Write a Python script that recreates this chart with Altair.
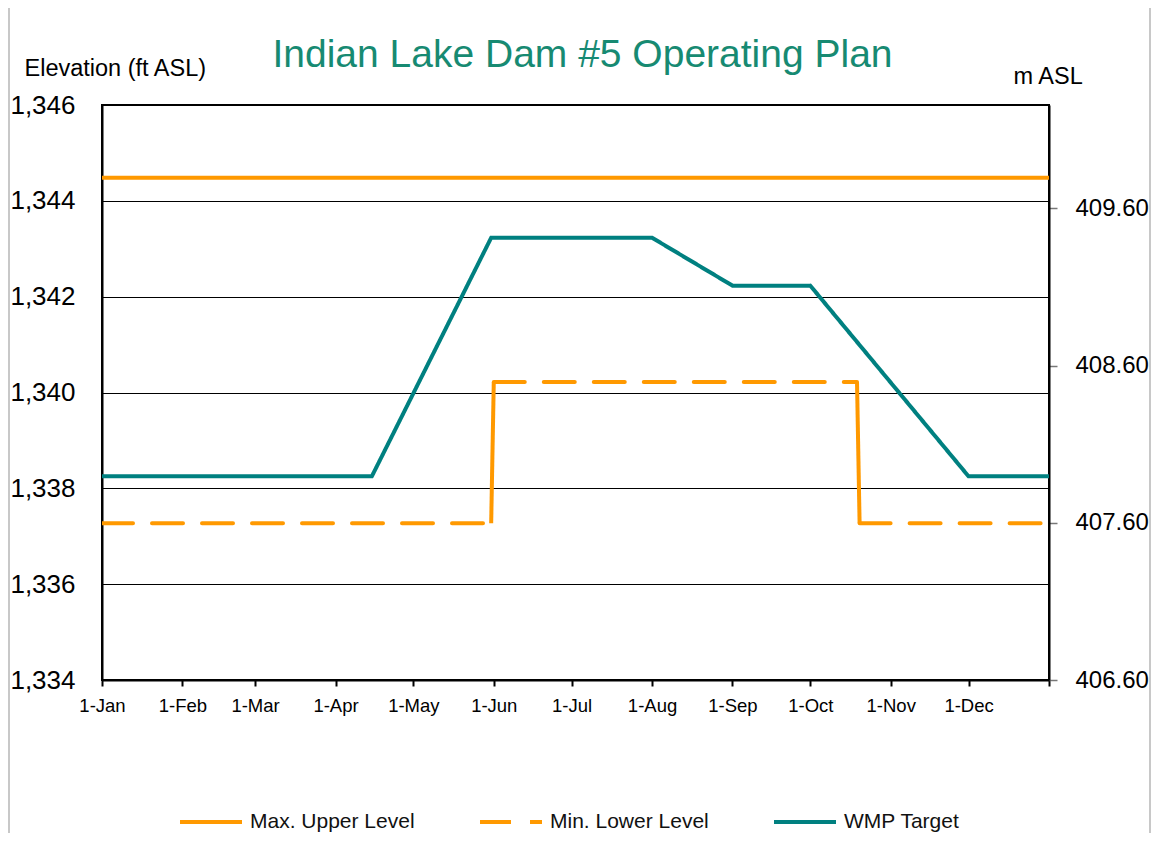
import altair as alt
import pandas as pd

FT_PER_M = 3.28084
FONT = "Liberation Sans"

TITLE = "Indian Lake Dam #5 Operating Plan"
series_names = ["Max. Upper Level", "Min. Lower Level", "WMP Target"]
series_colors = ["#FF9900", "#FF9900", "#008080"]
series_dash = [[1, 0], [31, 19], [1, 0]]

max_dates = ["2023-01-01T00:00:00", "2024-01-01T00:00:00"]
max_vals = [1344.48, 1344.48]

min_dates = ["2023-01-01T00:00:00", "2023-05-31T00:00:00", "2023-06-01T00:00:00",
             "2023-10-19T00:00:00", "2023-10-20T00:00:00", "2024-01-01T00:00:00"]
min_vals = [1337.27, 1337.27, 1340.22, 1340.22, 1337.27, 1337.27]

wmp_dates = ["2023-01-01T00:00:00", "2023-04-15T00:00:00", "2023-05-31T00:00:00",
             "2023-08-01T00:00:00", "2023-09-01T00:00:00", "2023-10-01T00:00:00",
             "2023-12-01T00:00:00", "2024-01-01T00:00:00"]
wmp_vals = [1338.25, 1338.25, 1343.23, 1343.23, 1342.23, 1342.23, 1338.25, 1338.25]

ft_ticks = [1334, 1336, 1338, 1340, 1342, 1344, 1346]
m_ticks = [406.6, 407.6, 408.6, 409.6]
ft_domain = [1334, 1346]
m_domain = [406.6, 406.6 + (ft_domain[1] - ft_domain[0]) / FT_PER_M]

rows = []
for d, v in zip(max_dates, max_vals):
    rows.append({"series": series_names[0], "seg": "max", "date": d, "elev": v})
for d, v in zip(wmp_dates, wmp_vals):
    rows.append({"series": series_names[2], "seg": "wmp", "date": d, "elev": v})
step_rows = []
for i in range(len(min_dates) - 1):
    pair = [(min_dates[i], min_vals[i]), (min_dates[i + 1], min_vals[i + 1])]
    flat = min_vals[i] == min_vals[i + 1]
    for d, v in pair:
        r = {"series": series_names[1], "seg": f"min{i}", "date": d, "elev": v}
        (rows if flat else step_rows).append(r)
df = pd.DataFrame(rows)
df_step = pd.DataFrame(step_rows)
df_m = pd.DataFrame({"date": max_dates, "m": [v / FT_PER_M for v in max_vals]})

W, H = 947, 575
PAD = {"left": 94, "top": 97, "right": 102, "bottom": 153}

month_ticks = [alt.DateTime(year=2023, month=m, date=1) for m in range(1, 13)] + \
              [alt.DateTime(year=2024, month=1, date=1)]

x_enc = alt.X(
    "date:T",
    scale=alt.Scale(domain=[alt.DateTime(year=2023, month=1, date=1),
                            alt.DateTime(year=2024, month=1, date=1)]),
    axis=alt.Axis(
        title=None, values=month_ticks,
        labelExpr="year(datum.value) > 2023 ? '' : timeFormat(datum.value, '%-d-%b')",
        grid=False, tickSize=6, tickWidth=2, tickColor="#000",
        domainColor="#000", domainWidth=2, labelFontSize=18.5, labelPadding=10,
        labelFont=FONT, labelColor="#000", labelFlush=False, labelOverlap=False,
    ),
)

legend = alt.Legend(
    title=None, orient="none", legendX=76, legendY=684, direction="horizontal",
    symbolType="stroke", symbolSize=3844, symbolStrokeWidth=4,
    labelFontSize=21, labelFont=FONT, labelColor="#111", labelLimit=400,
    columnPadding=57, labelOffset=6, padding=0,
)

y_ft = alt.Y(
    "elev:Q",
    scale=alt.Scale(domain=ft_domain, nice=False, zero=False),
    axis=alt.Axis(
        values=ft_ticks, format=",", title="Elevation (ft ASL)", titleAngle=0,
        titleX=-78, titleY=-30, titleAlign="left", titleBaseline="alphabetic",
        titleFontSize=23.5, titleFont=FONT, titleFontWeight="normal", titleColor="#000",
        ticks=False, labelPadding=27, labelFontSize=26, labelFont=FONT, labelColor="#000",
        grid=True, gridColor="#000", gridWidth=1, domainColor="#000", domainWidth=2,
    ),
)

lines = alt.Chart(df).mark_line(strokeWidth=4, clip=True, strokeCap="round").encode(
    x=x_enc,
    y=y_ft,
    color=alt.Color("series:N", scale=alt.Scale(domain=series_names, range=series_colors),
                    legend=legend),
    strokeDash=alt.StrokeDash("series:N", scale=alt.Scale(domain=series_names, range=series_dash),
                              legend=legend),
    detail="seg:N",
    order=alt.Order("date:T"),
)

steps = alt.Chart(df_step).mark_line(strokeWidth=4, clip=True, color="#FF9900").encode(
    x=x_enc, y=y_ft, detail="seg:N", order=alt.Order("date:T"),
)

ft_layer = alt.layer(lines, steps)

meters = alt.Chart(df_m).mark_line(opacity=0).encode(
    x=x_enc,
    y=alt.Y(
        "m:Q",
        scale=alt.Scale(domain=m_domain, nice=False, zero=False),
        axis=alt.Axis(
            orient="right", values=m_ticks, format=".2f", title="m ASL", titleAngle=0,
            titleX=-36, titleY=-22, titleAlign="left", titleBaseline="alphabetic",
            titleFontSize=23.5, titleFont=FONT, titleFontWeight="normal", titleColor="#000",
            grid=False, tickSize=8, tickColor="#777", tickWidth=1.5, labelPadding=18,
            labelFontSize=24, labelFont=FONT, labelColor="#000",
            domainColor="#000", domainWidth=2,
        ),
    ),
)

title_df = pd.DataFrame({"t": [TITLE]})
title = alt.Chart(title_df).mark_text(
    align="center", baseline="alphabetic", fontSize=39, font=FONT, color="#178A72"
).encode(text="t:N", x=alt.value(W / 2 + 7), y=alt.value(-38))

frame_df = pd.DataFrame({"k": [0]})
left_border = alt.Chart(frame_df).mark_rule(color="#C8C8C8", strokeWidth=2).encode(
    x=alt.value(-PAD["left"] + 1), y=alt.value(-PAD["top"]), y2=alt.value(H + PAD["bottom"]))
right_border = alt.Chart(frame_df).mark_rule(color="#C8C8C8", strokeWidth=2).encode(
    x=alt.value(W + PAD["right"] - 1), y=alt.value(-PAD["top"]), y2=alt.value(H + PAD["bottom"]))

chart = alt.layer(ft_layer, meters, title, left_border, right_border).resolve_scale(
    y="independent"
).properties(
    width=W, height=H, padding=PAD, autosize=alt.AutoSizeParams(type="none"),
    background="white",
).configure_view(stroke="#000", strokeWidth=2)

chart.save("out.html", embed_options={"renderer": "svg", "actions": False})
